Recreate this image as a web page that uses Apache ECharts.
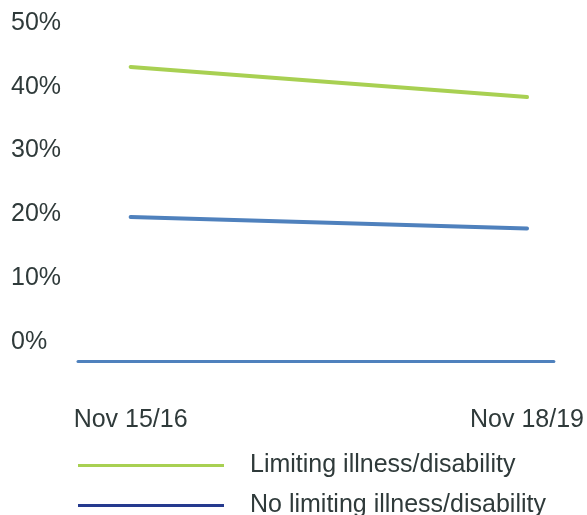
<!DOCTYPE html>
<html>
<head>
<meta charset="utf-8">
<script src="https://cdn.jsdelivr.net/npm/echarts@6/dist/echarts.min.js"></script>
<style>html,body{margin:0;padding:0;background:#fff}#c{width:587px;height:515px}</style>
</head>
<body>
<div id="c"></div>
<script>
const categories = ['Nov 15/16', 'Nov 18/19'];
const limiting = [43.1, 38.4];
const noLimiting = [19.6, 17.8];
const yTicks = [0, 10, 20, 30, 40, 50];
const seriesNames = ['Limiting illness/disability', 'No limiting illness/disability'];

const FONT = '"Liberation Sans", Arial, sans-serif';
const TXT = '#2f3a3a';
const GREEN = '#a8d052';
const BLUE = '#4f81bd';
const NAVY = '#253a8e';

const legendBase = {
  orient: 'vertical', left: 78, padding: 0,
  itemWidth: 146, itemHeight: 3, icon: 'rect',
  textStyle: { color: TXT, fontFamily: FONT, fontSize: 25, padding: [0, 0, 0, 21] }
};

const chart = echarts.init(document.getElementById('c'));
chart.setOption({
  animation: false,
  grid: { left: 78, right: 30, top: 23, bottom: 173 },
  xAxis: {
    type: 'value',
    min: -0.1328, max: 1.0677,
    offset: 19,
    axisLine: { show: true, onZero: false, lineStyle: { color: BLUE, width: 3 } },
    axisTick: { show: false },
    splitLine: { show: false },
    axisLabel: {
      customValues: [0, 1],
      formatter: v => categories[Math.round(v)],
      color: TXT, fontFamily: FONT, fontSize: 25, margin: 47
    }
  },
  yAxis: {
    type: 'value', min: 0, max: 50, interval: 10,
    axisLine: { show: false }, axisTick: { show: false }, splitLine: { show: false },
    axisLabel: {
      formatter: v => yTicks.includes(v) ? v + '%' : '',
      color: TXT, fontFamily: FONT, fontSize: 25, align: 'left', margin: 67
    }
  },
  legend: [
    Object.assign({}, legendBase, { top: 453, data: [seriesNames[0]] }),
    Object.assign({}, legendBase, { top: 493, data: [seriesNames[1]] })
  ],
  series: [
    {
      name: seriesNames[0], type: 'line',
      data: limiting.map((v, i) => [i, v]),
      showSymbol: false, symbol: 'none',
      itemStyle: { color: GREEN },
      lineStyle: { color: GREEN, width: 4, cap: 'round' }
    },
    {
      name: seriesNames[1], type: 'line',
      data: noLimiting.map((v, i) => [i, v]),
      showSymbol: false, symbol: 'none',
      itemStyle: { color: NAVY },
      lineStyle: { color: BLUE, width: 4, cap: 'round' }
    }
  ]
});
</script>
</body>
</html>
